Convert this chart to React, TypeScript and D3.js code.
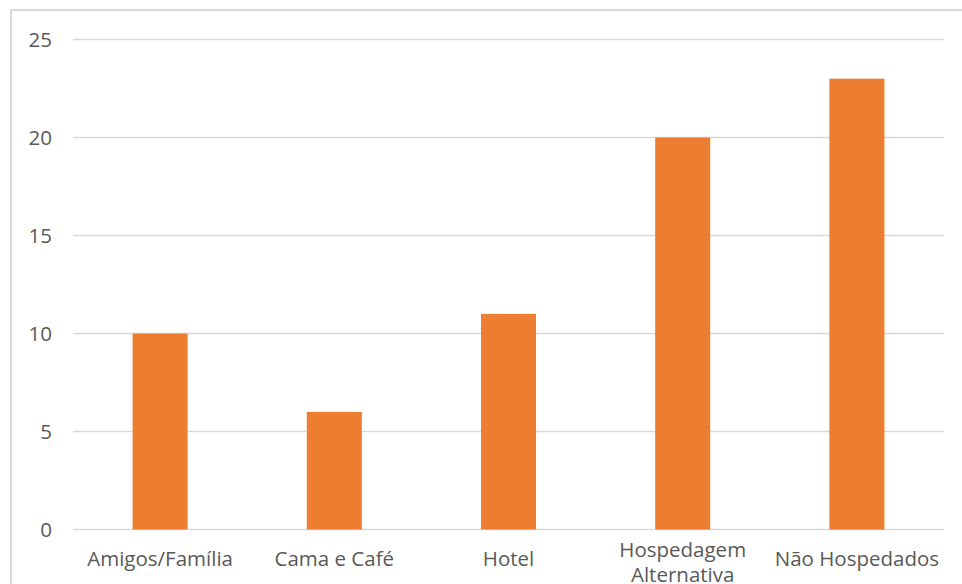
import React from "react";
import * as d3 from "d3";

const categories: string[][] = [
  ["Amigos/Família"],
  ["Cama e Café"],
  ["Hotel"],
  ["Hospedagem", "Alternativa"],
  ["Não Hospedados"],
];
const values: number[] = [10, 6, 11, 20, 23];
const yTicks: number[] = [0, 5, 10, 15, 20, 25];

const W = 962;
const H = 584;
const plotLeft = 73;
const plotRight = 944;
const yTop = 39.5;
const yZero = 529.5;
const FONT = "'Open Sans', sans-serif";

export default function App() {
  const x = d3
    .scaleBand<number>()
    .domain(values.map((_, i) => i))
    .range([plotLeft, plotRight])
    .paddingInner(0.684)
    .paddingOuter(0.342);
  const y = d3.scaleLinear().domain([0, 25]).range([yZero, yTop]);

  return (
    <svg
      width={W}
      height={H}
      style={{ position: "absolute", left: 0, top: 0, background: "#fff" }}
    >
      <rect x={0} y={0} width={W} height={H} fill="#fff" />
      <rect
        x={11}
        y={10}
        width={1200}
        height={1200}
        fill="none"
        stroke="#d9d9d9"
        strokeWidth={2}
      />
      {yTicks.map((t) => (
        <g key={t}>
          <line
            x1={plotLeft}
            x2={plotRight}
            y1={y(t)}
            y2={y(t)}
            stroke="#d9d9d9"
            strokeWidth={1.6}
          />
          <text
            x={52}
            y={y(t)}
            dy="0.36em"
            textAnchor="end"
            fontFamily={FONT}
            fontSize={20.5}
            fill="#595959"
          >
            {t}
          </text>
        </g>
      ))}
      {values.map((v, i) => (
        <rect
          key={i}
          x={x(i)}
          y={y(v)}
          width={x.bandwidth()}
          height={y(0) - y(v)}
          fill="#ED7D31"
        />
      ))}
      {categories.map((lines, i) => {
        const cx = (x(i) as number) + x.bandwidth() / 2;
        const baseline = lines.length > 1 ? 557 : 566;
        return (
          <text
            key={i}
            textAnchor="middle"
            fontFamily={FONT}
            fontSize={20.5}
            fill="#595959"
          >
            {lines.map((l, j) => (
              <tspan key={j} x={cx} y={baseline + j * 25}>
                {l}
              </tspan>
            ))}
          </text>
        );
      })}
    </svg>
  );
}
